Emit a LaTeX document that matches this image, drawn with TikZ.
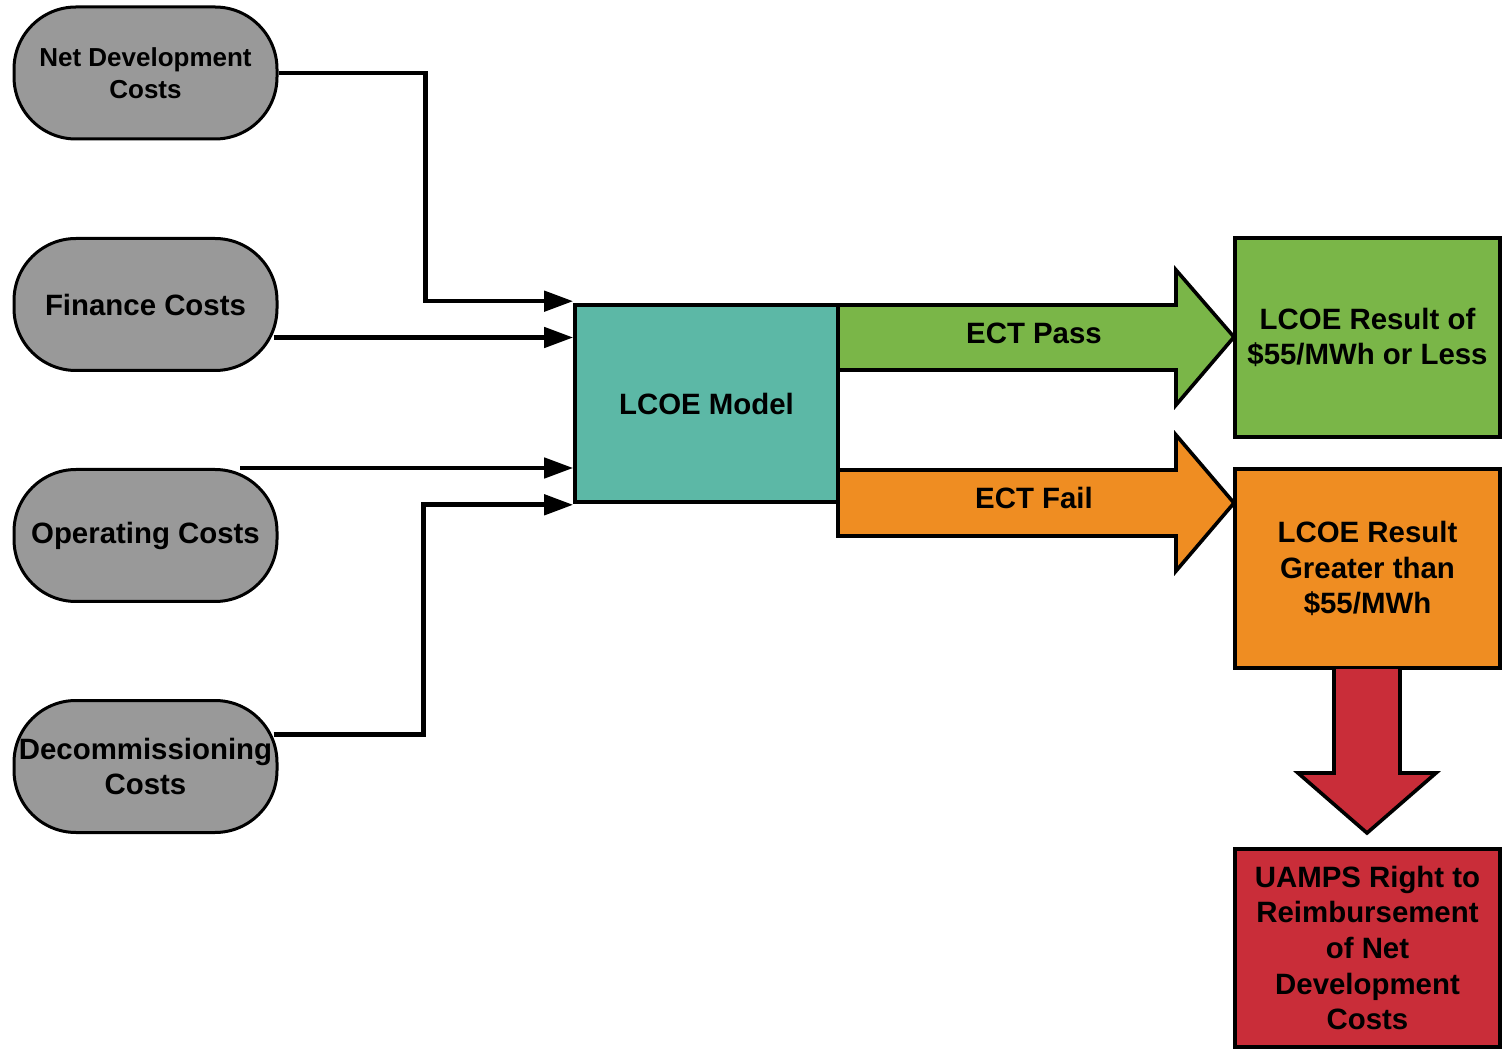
\documentclass[tikz,border=0pt]{standalone}
\usepackage{fontspec}
\setmainfont{Liberation Sans}
\usetikzlibrary{arrows.meta,calc}
\definecolor{pillgray}{HTML}{999999}
\definecolor{modelteal}{HTML}{5CB8A6}
\definecolor{passgreen}{HTML}{7AB648}
\definecolor{failorange}{HTML}{EF8D22}
\definecolor{alertred}{HTML}{C92D39}
\tikzset{
  pill/.style={draw=black, line width=1.5pt, fill=pillgray, rounded corners=31pt,
    minimum width=131.5pt, minimum height=66pt, align=center, inner sep=0pt,
    font=\bfseries\fontsize{14.7}{17.5}\selectfont},
  block/.style={draw=black, line width=1.8pt, align=center, inner sep=0pt,
    minimum width=132.5pt, minimum height=99.5pt,
    font=\bfseries\fontsize{14.7}{17.8}\selectfont},
  conn/.style={draw=black, line width=2.3pt, -{Triangle[length=14.5pt,width=10pt]}},
  bigarrow/.style={draw=black, line width=1.8pt, line join=miter},
  arrowlabel/.style={font=\bfseries\fontsize{14.7}{17.5}\selectfont},
}
\begin{document}
\begin{tikzpicture}[x=0.5pt,y=-0.5pt]
\useasboundingbox (0,0) rectangle (1511,1053);

% cost inputs
\node[pill, font=\bfseries\fontsize{13}{16}\selectfont] (nd) at (145.5,73) {Net Development\\Costs};
\node[pill] (fc) at (145.5,304.5) {Finance Costs};
\node[pill] (oc) at (145.5,535.5) {Operating Costs};
\node[pill] (dc) at (145.5,766.5) {Decommissioning\\Costs};

% block arrows out of the model
\path[bigarrow, fill=passgreen]
  (838,305) -- (1176,305) -- (1176,270) -- (1234,337) -- (1176,405) -- (1176,370) -- (838,370) -- cycle;
\node[arrowlabel] (pass) at (1034,333) {ECT Pass};
\path[bigarrow, fill=failorange]
  (838,470) -- (1176,470) -- (1176,435) -- (1234,503) -- (1176,571) -- (1176,536) -- (838,536) -- cycle;
\node[arrowlabel] (fail) at (1034,498) {ECT Fail};

% model
\node[block, fill=modelteal, minimum width=131.5pt, minimum height=98.5pt] (lcoe) at (706.5,403.5) {LCOE Model};

% results
\node[block, fill=passgreen] (res1) at (1367.5,337.5) {LCOE Result of\\\$55/MWh or Less};
\node[block, fill=failorange] (res2) at (1367.5,568.5) {LCOE Result\\Greater than\\\$55/MWh};
\node[block, fill=alertred, minimum height=99pt] (res3) at (1367.5,948) {UAMPS Right to\\Reimbursement\\of Net\\Development\\Costs};

% downward block arrow
\path[fill=alertred]
  (1334,669) -- (1334,773) -- (1298,773) -- (1367,833) -- (1436,773) -- (1400,773) -- (1400,669);
\draw[bigarrow] (1334,668) -- (1334,773) -- (1298,773) -- (1367,833) -- (1436,773) -- (1400,773) -- (1400,668);

% connectors into the model
\coordinate (f0) at ($(fc.east)+(-5,33)$);
\coordinate (o0) at ($(oc.north)+(94.5,0)$);
\coordinate (d0) at ($(dc.east)+(-5,-32)$);
\draw[conn] (nd.east) -- ++(147,0) |- ($(lcoe.north west)+(0,-2)$);
\draw[conn] (f0) -- (f0 -| lcoe.west);
\draw[conn] (o0) -- (o0 -| lcoe.west);
\draw[conn] (d0) -- ++(150,0) |- ($(lcoe.south west)+(0,1)$);
\end{tikzpicture}
\end{document}
